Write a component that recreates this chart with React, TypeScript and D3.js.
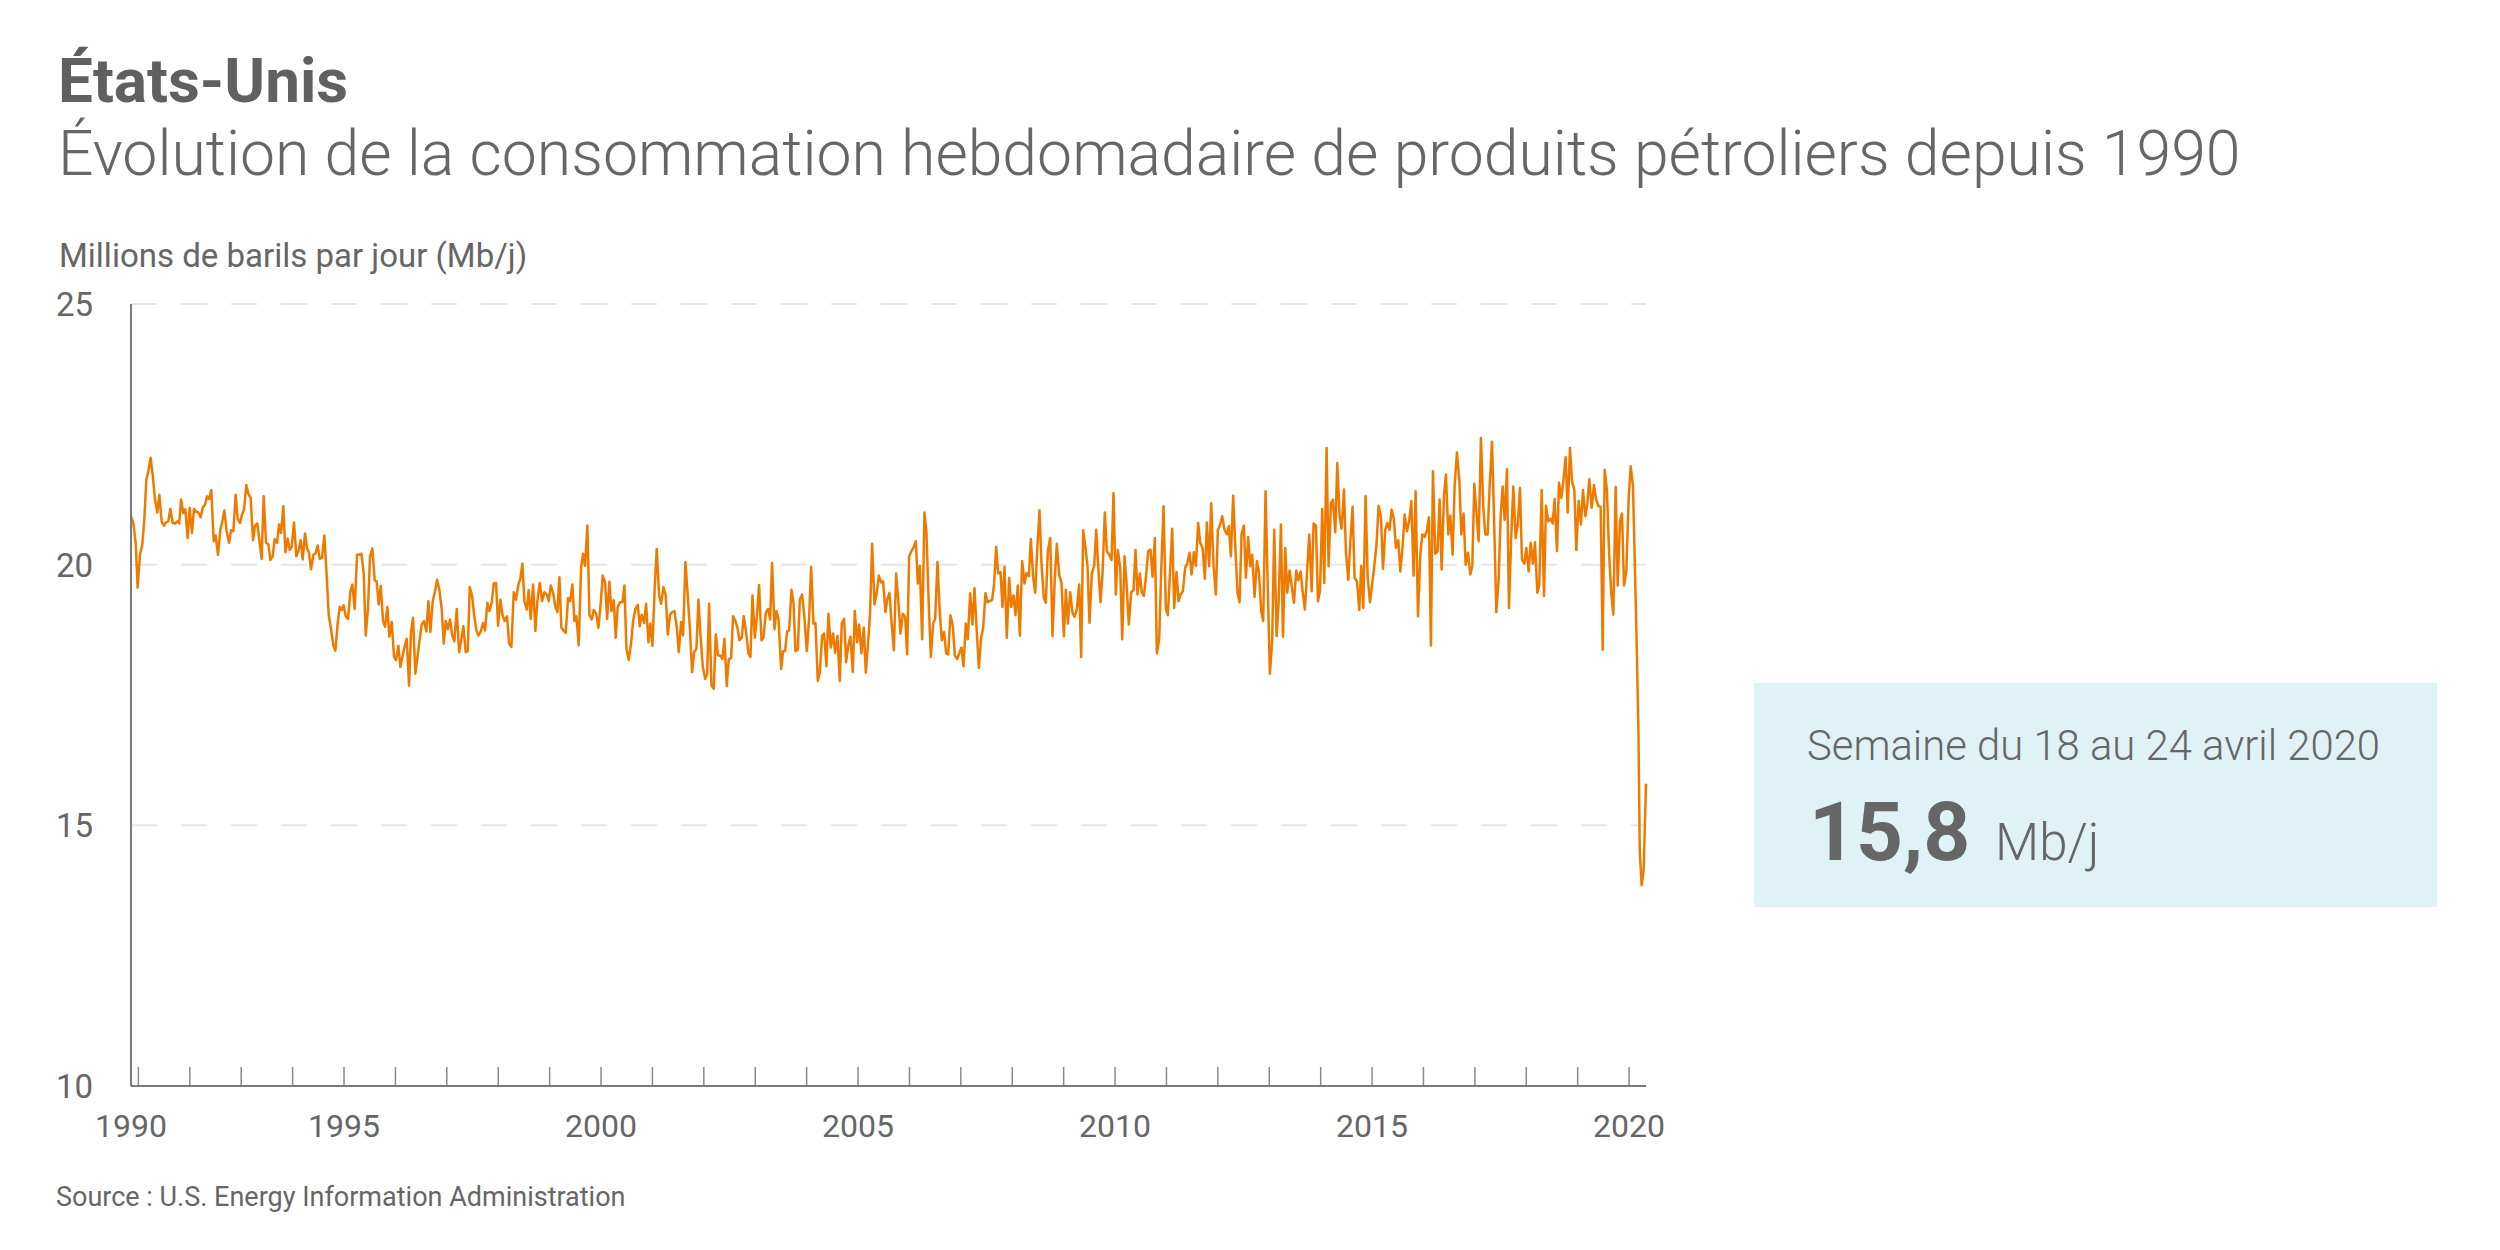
import React from "react";
import * as d3 from "d3";

// ---- Texts ----
const titleText = "États-Unis";
const subtitleText =
  "Évolution de la consommation hebdomadaire de produits pétroliers depuis 1990";
const yAxisTitle = "Millions de barils par jour (Mb/j)";
const sourceText = "Source : U.S. Energy Information Administration";
const boxLabel = "Semaine du 18 au 24 avril 2020";
const boxValue = "15,8";
const boxUnit = "Mb/j";

// ---- Axes ----
const yDomain: [number, number] = [10, 25];
const yTickValues = [10, 15, 20, 25];
const gridValues = [15, 20, 25];
const tickYears = [
  1991, 1992, 1993, 1994, 1995, 1996, 1997, 1998, 1999, 2000, 2001, 2002, 2003,
  2004, 2005, 2006, 2007, 2008, 2009, 2010, 2011, 2012, 2013, 2014, 2015, 2016,
  2017, 2018, 2019, 2020,
];
const firstYearLabel = "1990";
const labelYears = [1995, 2000, 2005, 2010, 2015, 2020];

// ---- Weekly product supplied (decimal year, Mb/d) ----
const weekly: [number, number][] = [
  [1990.856, 20.93], [1990.901, 20.8], [1990.947, 20.42], [1990.985, 19.56], [1991.031, 20.19],
  [1991.076, 20.39], [1991.115, 20.86], [1991.154, 21.63], [1991.193, 21.79], [1991.238, 22.05],
  [1991.277, 21.73], [1991.323, 21.25], [1991.368, 21.0], [1991.407, 21.34], [1991.452, 20.83],
  [1991.498, 20.75], [1991.537, 20.81], [1991.582, 20.83], [1991.621, 21.07], [1991.667, 20.8],
  [1991.712, 20.79], [1991.757, 20.83], [1991.796, 20.79], [1991.829, 21.25], [1991.874, 20.99],
  [1991.913, 21.06], [1991.958, 20.51], [1991.997, 21.09], [1992.043, 20.61], [1992.082, 21.07],
  [1992.12, 21.02], [1992.166, 21.0], [1992.211, 20.91], [1992.25, 21.09], [1992.296, 21.15],
  [1992.335, 21.31], [1992.373, 21.26], [1992.419, 21.43], [1992.464, 20.45], [1992.503, 20.56],
  [1992.549, 20.19], [1992.594, 20.67], [1992.633, 20.83], [1992.672, 21.04], [1992.717, 20.64],
  [1992.763, 20.42], [1992.802, 20.66], [1992.847, 20.64], [1992.892, 21.34], [1992.931, 20.88],
  [1992.977, 20.8], [1993.016, 20.96], [1993.055, 21.06], [1993.1, 21.53], [1993.139, 21.36],
  [1993.184, 21.28], [1993.23, 20.47], [1993.269, 20.75], [1993.314, 20.79], [1993.359, 20.42],
  [1993.398, 20.11], [1993.437, 21.31], [1993.483, 20.42], [1993.528, 20.39], [1993.567, 20.09],
  [1993.612, 20.16], [1993.651, 20.49], [1993.697, 20.42], [1993.736, 20.77], [1993.774, 20.61],
  [1993.82, 21.12], [1993.859, 20.24], [1993.904, 20.5], [1993.943, 20.28], [1993.982, 20.34],
  [1994.027, 20.81], [1994.073, 20.16], [1994.112, 20.26], [1994.157, 20.47], [1994.196, 20.1],
  [1994.241, 20.6], [1994.28, 20.32], [1994.319, 20.23], [1994.358, 19.91], [1994.404, 20.19],
  [1994.443, 20.21], [1994.488, 20.37], [1994.527, 20.11], [1994.572, 20.13], [1994.618, 20.56],
  [1994.663, 19.78], [1994.702, 19.04], [1994.747, 18.76], [1994.793, 18.45], [1994.832, 18.35],
  [1994.877, 18.88], [1994.916, 19.19], [1994.955, 19.13], [1994.994, 19.22], [1995.033, 19.01],
  [1995.078, 18.96], [1995.124, 19.49], [1995.162, 19.62], [1995.208, 19.15], [1995.253, 20.19],
  [1995.292, 20.19], [1995.338, 20.21], [1995.383, 19.84], [1995.422, 18.64], [1995.467, 19.17],
  [1995.506, 20.16], [1995.552, 20.31], [1995.597, 19.7], [1995.636, 19.68], [1995.675, 19.24],
  [1995.714, 19.59], [1995.759, 18.92], [1995.798, 18.81], [1995.843, 19.19], [1995.882, 18.62],
  [1995.928, 18.9], [1995.973, 18.23], [1996.012, 18.17], [1996.058, 18.44], [1996.096, 18.04],
  [1996.135, 18.23], [1996.181, 18.44], [1996.22, 18.58], [1996.265, 17.68], [1996.304, 18.72],
  [1996.343, 18.98], [1996.388, 17.91], [1996.427, 18.21], [1996.473, 18.57], [1996.511, 18.85],
  [1996.557, 18.92], [1996.602, 18.72], [1996.641, 19.3], [1996.68, 18.71], [1996.726, 19.3],
  [1996.771, 19.49], [1996.81, 19.71], [1996.855, 19.52], [1996.901, 19.14], [1996.94, 18.49],
  [1996.979, 18.92], [1997.017, 18.76], [1997.063, 18.95], [1997.102, 18.66], [1997.147, 18.53],
  [1997.193, 19.15], [1997.238, 18.32], [1997.277, 18.53], [1997.322, 18.82], [1997.368, 18.32],
  [1997.407, 18.34], [1997.446, 19.57], [1997.491, 19.4], [1997.53, 19.04], [1997.575, 18.74],
  [1997.614, 18.64], [1997.66, 18.72], [1997.705, 18.88], [1997.744, 18.74], [1997.789, 19.27],
  [1997.828, 19.11], [1997.874, 19.28], [1997.913, 19.64], [1997.958, 19.65], [1997.997, 18.83],
  [1998.042, 19.33], [1998.081, 19.04], [1998.127, 18.92], [1998.172, 19.01], [1998.211, 18.49],
  [1998.256, 18.42], [1998.302, 19.47], [1998.347, 19.33], [1998.392, 19.62], [1998.431, 19.73],
  [1998.47, 20.02], [1998.509, 19.3], [1998.555, 19.14], [1998.594, 19.51], [1998.632, 18.96],
  [1998.678, 19.62], [1998.723, 18.73], [1998.762, 19.3], [1998.808, 19.65], [1998.853, 19.3],
  [1998.898, 19.47], [1998.944, 19.43], [1998.983, 19.3], [1999.022, 19.6], [1999.067, 19.46],
  [1999.112, 19.19], [1999.151, 19.09], [1999.19, 19.76], [1999.229, 18.79], [1999.275, 18.73],
  [1999.313, 18.69], [1999.359, 19.36], [1999.398, 19.3], [1999.443, 19.62], [1999.482, 18.92],
  [1999.521, 19.01], [1999.566, 18.45], [1999.612, 19.94], [1999.651, 20.21], [1999.69, 19.98],
  [1999.735, 20.75], [1999.774, 19.04], [1999.819, 18.95], [1999.858, 19.13], [1999.904, 19.06],
  [1999.949, 18.79], [1999.995, 19.27], [2000.033, 19.79], [2000.079, 19.66], [2000.118, 18.96],
  [2000.163, 19.67], [2000.202, 19.11], [2000.247, 19.32], [2000.286, 18.6], [2000.325, 19.19],
  [2000.371, 19.28], [2000.416, 19.28], [2000.455, 19.6], [2000.494, 18.39], [2000.539, 18.17],
  [2000.585, 18.5], [2000.624, 18.92], [2000.669, 19.15], [2000.714, 19.23], [2000.753, 18.82],
  [2000.792, 19.04], [2000.838, 18.88], [2000.877, 19.25], [2000.922, 18.51], [2000.961, 18.87],
  [2001.0, 18.44], [2001.045, 19.57], [2001.084, 20.3], [2001.13, 19.41], [2001.168, 19.25],
  [2001.214, 19.57], [2001.259, 19.41], [2001.298, 18.66], [2001.344, 19.04], [2001.382, 19.09],
  [2001.428, 19.11], [2001.473, 18.81], [2001.512, 18.32], [2001.558, 18.9], [2001.596, 18.64],
  [2001.642, 20.05], [2001.687, 19.4], [2001.726, 18.82], [2001.772, 17.94], [2001.811, 18.32],
  [2001.856, 18.39], [2001.895, 19.33], [2001.934, 18.66], [2001.979, 18.05], [2002.025, 17.81],
  [2002.064, 17.89], [2002.102, 19.25], [2002.148, 17.68], [2002.193, 17.62], [2002.232, 18.66],
  [2002.277, 18.26], [2002.316, 18.26], [2002.362, 18.19], [2002.401, 18.58], [2002.446, 17.67],
  [2002.485, 18.19], [2002.531, 18.21], [2002.569, 19.01], [2002.615, 18.92], [2002.654, 18.79],
  [2002.693, 18.55], [2002.738, 18.6], [2002.777, 19.01], [2002.822, 18.71], [2002.868, 18.3],
  [2002.907, 18.23], [2002.946, 19.41], [2002.991, 18.6], [2003.036, 19.06], [2003.075, 19.61],
  [2003.121, 18.55], [2003.16, 18.6], [2003.205, 19.08], [2003.251, 19.15], [2003.289, 18.95],
  [2003.328, 20.03], [2003.374, 18.76], [2003.413, 19.11], [2003.452, 18.96], [2003.504, 18.0],
  [2003.542, 18.34], [2003.581, 18.34], [2003.62, 18.72], [2003.659, 18.74], [2003.705, 19.52],
  [2003.744, 19.28], [2003.782, 18.34], [2003.828, 18.37], [2003.867, 19.33], [2003.912, 19.43],
  [2003.957, 18.98], [2004.003, 18.34], [2004.048, 18.96], [2004.087, 19.96], [2004.133, 18.87],
  [2004.171, 18.88], [2004.217, 17.77], [2004.256, 17.93], [2004.301, 18.63], [2004.34, 18.68],
  [2004.385, 18.05], [2004.424, 19.06], [2004.47, 18.41], [2004.515, 18.68], [2004.554, 18.31],
  [2004.6, 18.63], [2004.645, 17.77], [2004.684, 18.88], [2004.729, 18.96], [2004.768, 18.13],
  [2004.814, 18.47], [2004.852, 18.62], [2004.898, 17.94], [2004.937, 19.11], [2004.982, 18.51],
  [2005.021, 18.85], [2005.066, 18.3], [2005.112, 18.79], [2005.151, 17.93], [2005.196, 18.51],
  [2005.235, 19.08], [2005.274, 20.4], [2005.32, 19.24], [2005.365, 19.47], [2005.404, 19.79],
  [2005.449, 19.66], [2005.488, 19.68], [2005.533, 19.09], [2005.566, 19.33], [2005.611, 19.46],
  [2005.65, 18.92], [2005.696, 18.36], [2005.741, 19.83], [2005.786, 19.27], [2005.825, 18.68],
  [2005.871, 19.06], [2005.916, 19.0], [2005.955, 18.28], [2005.994, 20.16], [2006.039, 20.26],
  [2006.085, 20.34], [2006.124, 20.45], [2006.163, 19.64], [2006.202, 19.98], [2006.247, 18.57],
  [2006.292, 21.0], [2006.331, 20.61], [2006.377, 19.2], [2006.416, 18.23], [2006.461, 18.87],
  [2006.5, 18.96], [2006.545, 20.05], [2006.591, 19.06], [2006.63, 18.55], [2006.675, 18.71],
  [2006.714, 18.3], [2006.753, 18.28], [2006.798, 19.03], [2006.844, 18.82], [2006.883, 18.26],
  [2006.928, 18.19], [2006.973, 18.31], [2007.012, 18.41], [2007.051, 18.05], [2007.097, 18.87],
  [2007.136, 18.57], [2007.181, 19.45], [2007.226, 18.85], [2007.265, 19.55], [2007.311, 18.69],
  [2007.35, 18.02], [2007.395, 18.6], [2007.434, 18.79], [2007.479, 19.45], [2007.518, 19.28],
  [2007.564, 19.3], [2007.609, 19.33], [2007.648, 19.64], [2007.687, 20.34], [2007.726, 19.83],
  [2007.771, 19.86], [2007.81, 19.19], [2007.849, 19.96], [2007.894, 18.6], [2007.94, 19.75],
  [2007.979, 19.19], [2008.024, 19.41], [2008.063, 19.03], [2008.108, 19.6], [2008.147, 18.64],
  [2008.193, 20.07], [2008.238, 19.64], [2008.277, 19.84], [2008.323, 19.78], [2008.361, 20.49],
  [2008.407, 19.75], [2008.446, 19.46], [2008.491, 20.39], [2008.53, 21.04], [2008.569, 20.02],
  [2008.614, 19.36], [2008.653, 19.27], [2008.692, 20.26], [2008.738, 20.51], [2008.783, 18.63],
  [2008.828, 19.75], [2008.867, 20.4], [2008.913, 19.81], [2008.958, 19.65], [2009.004, 18.63],
  [2009.043, 19.52], [2009.081, 18.87], [2009.127, 19.47], [2009.172, 19.08], [2009.211, 19.0],
  [2009.256, 19.14], [2009.302, 19.62], [2009.341, 18.23], [2009.38, 20.66], [2009.425, 20.32],
  [2009.464, 19.97], [2009.503, 18.88], [2009.548, 19.83], [2009.594, 19.98], [2009.633, 20.67],
  [2009.678, 19.87], [2009.717, 19.28], [2009.756, 19.83], [2009.801, 21.0], [2009.84, 20.26],
  [2009.886, 20.19], [2009.931, 20.09], [2009.97, 21.37], [2010.015, 19.43], [2010.054, 20.28],
  [2010.1, 19.94], [2010.139, 18.57], [2010.184, 20.16], [2010.223, 19.65], [2010.268, 18.85],
  [2010.314, 19.47], [2010.359, 19.51], [2010.398, 20.28], [2010.437, 19.43], [2010.482, 19.83],
  [2010.521, 19.47], [2010.56, 19.4], [2010.606, 19.81], [2010.645, 20.26], [2010.69, 20.29],
  [2010.729, 19.77], [2010.774, 20.51], [2010.813, 18.3], [2010.859, 18.58], [2010.898, 19.89],
  [2010.943, 21.12], [2010.988, 19.15], [2011.027, 19.03], [2011.073, 19.92], [2011.112, 20.69],
  [2011.15, 19.17], [2011.196, 19.86], [2011.235, 19.3], [2011.274, 19.43], [2011.319, 19.49],
  [2011.364, 19.94], [2011.403, 20.02], [2011.449, 20.23], [2011.488, 19.81], [2011.533, 20.24],
  [2011.572, 19.98], [2011.617, 20.8], [2011.656, 20.42], [2011.702, 20.32], [2011.747, 19.73],
  [2011.786, 20.81], [2011.831, 19.97], [2011.87, 21.18], [2011.916, 19.97], [2011.961, 19.43],
  [2012.0, 20.66], [2012.045, 20.77], [2012.084, 20.93], [2012.13, 20.67], [2012.175, 20.58],
  [2012.214, 20.74], [2012.253, 20.16], [2012.298, 21.32], [2012.344, 20.24], [2012.383, 19.45],
  [2012.422, 19.28], [2012.46, 20.58], [2012.506, 20.75], [2012.545, 19.75], [2012.59, 20.53],
  [2012.629, 19.97], [2012.668, 20.19], [2012.714, 19.38], [2012.759, 20.07], [2012.798, 19.87],
  [2012.843, 19.11], [2012.882, 18.92], [2012.928, 21.41], [2012.973, 19.46], [2013.012, 17.91],
  [2013.057, 18.55], [2013.096, 20.67], [2013.143, 18.63], [2013.181, 19.25], [2013.227, 20.77],
  [2013.266, 18.62], [2013.311, 20.32], [2013.35, 19.46], [2013.395, 19.89], [2013.441, 19.55],
  [2013.48, 19.27], [2013.525, 19.89], [2013.564, 19.7], [2013.609, 19.87], [2013.648, 19.49],
  [2013.694, 19.14], [2013.739, 19.92], [2013.778, 20.58], [2013.824, 19.49], [2013.862, 20.79],
  [2013.908, 20.75], [2013.947, 19.3], [2013.986, 19.49], [2014.031, 21.07], [2014.07, 19.65],
  [2014.115, 22.24], [2014.154, 19.97], [2014.2, 21.18], [2014.239, 21.25], [2014.284, 20.62],
  [2014.323, 21.95], [2014.368, 20.93], [2014.407, 20.69], [2014.453, 21.44], [2014.492, 20.23],
  [2014.537, 19.71], [2014.576, 20.42], [2014.621, 21.11], [2014.66, 19.75], [2014.706, 19.68],
  [2014.751, 19.13], [2014.79, 19.98], [2014.829, 19.17], [2014.874, 21.31], [2014.913, 19.79],
  [2014.959, 19.28], [2015.004, 19.65], [2015.043, 19.97], [2015.088, 20.42], [2015.127, 21.13],
  [2015.173, 20.91], [2015.212, 19.92], [2015.257, 20.67], [2015.296, 20.8], [2015.341, 20.67],
  [2015.38, 21.06], [2015.426, 20.86], [2015.464, 20.32], [2015.51, 20.47], [2015.549, 19.87],
  [2015.594, 20.35], [2015.633, 20.96], [2015.679, 20.64], [2015.724, 20.85], [2015.763, 21.22],
  [2015.808, 19.79], [2015.847, 21.41], [2015.893, 19.01], [2015.938, 20.19], [2015.977, 20.58],
  [2016.022, 20.53], [2016.068, 20.66], [2016.106, 20.91], [2016.145, 18.45], [2016.184, 21.79],
  [2016.23, 20.21], [2016.275, 20.26], [2016.314, 21.25], [2016.353, 19.91], [2016.399, 21.34],
  [2016.437, 21.73], [2016.483, 20.58], [2016.522, 20.94], [2016.567, 20.19], [2016.606, 21.52],
  [2016.651, 22.15], [2016.697, 21.63], [2016.736, 20.58], [2016.781, 20.98], [2016.82, 20.0],
  [2016.865, 20.23], [2016.911, 19.81], [2016.95, 19.97], [2016.989, 21.55], [2017.034, 20.96],
  [2017.073, 20.45], [2017.118, 22.43], [2017.164, 21.09], [2017.203, 20.58], [2017.248, 20.58],
  [2017.287, 21.5], [2017.333, 22.36], [2017.378, 20.7], [2017.417, 19.09], [2017.462, 19.71],
  [2017.501, 20.93], [2017.54, 21.5], [2017.579, 20.86], [2017.624, 21.83], [2017.663, 19.17],
  [2017.709, 20.58], [2017.748, 21.5], [2017.793, 20.51], [2017.832, 20.75], [2017.877, 21.47],
  [2017.916, 20.1], [2017.962, 20.02], [2018.001, 20.32], [2018.046, 19.87], [2018.085, 20.42],
  [2018.13, 20.02], [2018.169, 20.43], [2018.215, 19.46], [2018.253, 19.62], [2018.299, 21.43],
  [2018.344, 19.4], [2018.383, 21.13], [2018.429, 20.83], [2018.474, 20.88], [2018.513, 20.79],
  [2018.552, 21.26], [2018.597, 20.26], [2018.636, 21.57], [2018.682, 21.28], [2018.72, 21.6],
  [2018.766, 22.06], [2018.805, 21.0], [2018.85, 22.24], [2018.889, 21.6], [2018.935, 21.44],
  [2018.973, 20.28], [2019.019, 21.22], [2019.064, 20.77], [2019.103, 21.43], [2019.149, 20.93],
  [2019.188, 21.18], [2019.226, 21.64], [2019.272, 21.09], [2019.317, 21.53], [2019.356, 21.26],
  [2019.401, 21.13], [2019.447, 21.11], [2019.486, 18.37], [2019.525, 21.82], [2019.57, 21.41],
  [2019.609, 20.26], [2019.654, 19.43], [2019.693, 19.04], [2019.739, 21.49], [2019.778, 19.6],
  [2019.823, 20.83], [2019.862, 20.98], [2019.901, 19.6], [2019.946, 19.87], [2019.992, 21.28],
  [2020.031, 21.89], [2020.076, 21.5], [2020.143, 18.7], [2020.182, 16.8], [2020.208, 14.5],
  [2020.244, 13.85], [2020.283, 14.14], [2020.329, 15.8],
];

// ---- Layout ----
const W = 2500;
const H = 1250;
const plotLeft = 131;
const plotRight = 1646;
const plotTop = 304;
const plotBottom = 1086;

const textColor = "#666666";
const lineColor = "#ef7a00";
const font = "Roboto, 'Noto Sans', sans-serif";

export default function App() {
  const x = d3
    .scaleLinear()
    .domain([weekly[0][0], weekly[weekly.length - 1][0]])
    .range([plotLeft, plotRight]);
  const y = d3.scaleLinear().domain(yDomain).range([plotBottom, plotTop]);

  const line = d3
    .line<[number, number]>()
    .x((d) => x(d[0]))
    .y((d) => y(d[1]))
    .curve(d3.curveLinear);

  return (
    <svg
      width={W}
      height={H}
      viewBox={`0 0 ${W} ${H}`}
      style={{ position: "absolute", left: 0, top: 0, background: "#ffffff" }}
      fontFamily={font}
    >
      <rect x={0} y={0} width={W} height={H} fill="#ffffff" />

      {/* Titles */}
      <text x={58} y={102} fontSize={62} fontWeight={700} fill="#606060">
        {titleText}
      </text>
      <text x={58} y={175} fontSize={62.5} fontWeight={300} fill={textColor}>
        {subtitleText}
      </text>
      <text x={59} y={267} fontSize={33} fontWeight={400} fill={textColor}>
        {yAxisTitle}
      </text>

      {/* Grid lines */}
      {gridValues.map((v) => (
        <line
          key={"g" + v}
          x1={plotLeft}
          x2={plotRight}
          y1={y(v)}
          y2={y(v)}
          stroke="#e6e6e6"
          strokeWidth={2}
          strokeDasharray="26 24"
        />
      ))}

      {/* Y tick labels */}
      {yTickValues.map((v) => (
        <text
          key={"yt" + v}
          x={93}
          y={y(v) + 12}
          fontSize={33}
          textAnchor="end"
          fill={textColor}
        >
          {v}
        </text>
      ))}

      {/* X ticks */}
      {tickYears.map((yr) => (
        <line
          key={"xt" + yr}
          x1={x(yr)}
          x2={x(yr)}
          y1={plotBottom}
          y2={plotBottom - 19}
          stroke="#8a8a8a"
          strokeWidth={1.5}
        />
      ))}

      {/* X labels */}
      <text
        x={x(weekly[0][0])}
        y={1137}
        fontSize={32}
        textAnchor="middle"
        fill={textColor}
      >
        {firstYearLabel}
      </text>
      {labelYears.map((yr) => (
        <text
          key={"xl" + yr}
          x={x(yr)}
          y={1137}
          fontSize={32}
          textAnchor="middle"
          fill={textColor}
        >
          {yr}
        </text>
      ))}

      {/* Data line */}
      <path
        d={line(weekly) || ""}
        fill="none"
        stroke={lineColor}
        strokeWidth={2.5}
        strokeLinejoin="round"
      />

      {/* Axes */}
      <line
        x1={plotLeft}
        x2={plotLeft}
        y1={plotTop}
        y2={plotBottom}
        stroke="#7a7a7a"
        strokeWidth={2}
      />
      <line
        x1={plotLeft}
        x2={plotRight}
        y1={plotBottom}
        y2={plotBottom}
        stroke="#7a7a7a"
        strokeWidth={2}
      />

      {/* Source */}
      <text x={56} y={1206} fontSize={27} fill={textColor}>
        {sourceText}
      </text>

      {/* Highlight box */}
      <rect x={1754} y={683} width={683} height={224} fill="#dff3f6" />
      <text x={1807} y={760} fontSize={41.8} fontWeight={300} fill={textColor}>
        {boxLabel}
      </text>
      <text x={1809} y={860} fontSize={82} fontWeight={700} fill={textColor}>
        {boxValue}
      </text>
      <text x={1995} y={860} fontSize={51} fontWeight={300} fill={textColor}>
        {boxUnit}
      </text>
    </svg>
  );
}
